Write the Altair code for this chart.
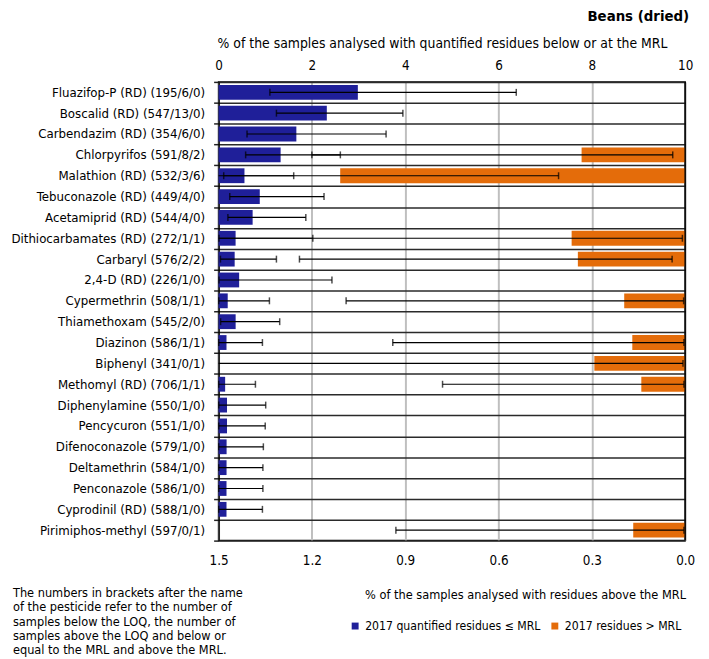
import altair as alt
import pandas as pd

categories = [
    "Fluazifop-P (RD) (195/6/0)", "Boscalid (RD) (547/13/0)", "Carbendazim (RD) (354/6/0)",
    "Chlorpyrifos (591/8/2)", "Malathion (RD) (532/3/6)", "Tebuconazole (RD) (449/4/0)",
    "Acetamiprid (RD) (544/4/0)", "Dithiocarbamates (RD) (272/1/1)", "Carbaryl (576/2/2)",
    "2,4-D (RD) (226/1/0)", "Cypermethrin (508/1/1)", "Thiamethoxam (545/2/0)",
    "Diazinon (586/1/1)", "Biphenyl (341/0/1)", "Methomyl (RD) (706/1/1)",
    "Diphenylamine (550/1/0)", "Pencycuron (551/1/0)", "Difenoconazole (579/1/0)",
    "Deltamethrin (584/1/0)", "Penconazole (586/1/0)", "Cyprodinil (RD) (588/1/0)",
    "Pirimiphos-methyl (597/0/1)",
]
# % quantified residues <= MRL (top axis) with error-bar limits
below_pct = [2.985, 2.32, 1.667, 1.33, 0.555, 0.883, 0.73, 0.365, 0.345, 0.441, 0.196, 0.366,
             0.17, 0.0, 0.141, 0.181, 0.181, 0.172, 0.171, 0.17, 0.17, 0.0]
below_lo = [1.10, 1.24, 0.61, 0.58, 0.11, 0.24, 0.20, 0.01, 0.04, 0.01, 0.005, 0.044,
            0.004, None, 0.004, 0.005, 0.005, 0.004, 0.004, 0.004, 0.004, None]
below_hi = [6.38, 3.95, 3.59, 2.61, 1.61, 2.26, 1.87, 2.02, 1.24, 2.43, 1.09, 1.31,
            0.94, None, 0.79, 1.01, 1.00, 0.96, 0.95, 0.95, 0.94, None]
# % residues > MRL (bottom axis, reversed) with error-bar limits
above_pct = [0, 0, 0, 0.333, 1.109, 0, 0, 0.365, 0.345, 0, 0.196, 0,
             0.17, 0.292, 0.141, 0, 0, 0, 0, 0, 0, 0.167]
above_lo = [None, None, None, 0.040, 0.407, None, None, 0.009, 0.042, None, 0.005, None,
            0.004, 0.007, 0.004, None, None, None, None, None, None, 0.004]
above_hi = [None, None, None, 1.20, 2.40, None, None, 2.02, 1.24, None, 1.09, None,
            0.94, 1.62, 0.78, None, None, None, None, None, None, 0.93]

top_ticks = [0, 2, 4, 6, 8, 10]
bottom_ticks = [1.5, 1.2, 0.9, 0.6, 0.3, 0.0]
series_names = ["2017 quantified residues \u2264 MRL", "2017 residues > MRL"]
note = ("The numbers in brackets after the name\nof the pesticide refer to the number of\n"
        "samples below the LOQ, the number of\nsamples above the LOQ and below or\n"
        "equal to the MRL and above the MRL.")
panel_title = "Beans (dried)"

BLUE = "#1F1F99"
ORANGE = "#E46C0A"
FONT = "DejaVu Sans Condensed, DejaVu Sans"
W, H = 472, 464

df = pd.DataFrame({
    "cat": categories, "below": below_pct, "blo": below_lo, "bhi": below_hi,
    "above": above_pct, "alo": above_lo, "ahi": above_hi,
})

y_axis = alt.Axis(title=None, labelFont=FONT, labelFontSize=13.3, labelColor="black",
                  labelPadding=9, labelLimit=300, tickSize=5, tickColor="#222", tickWidth=1.5,
                  tickBand="extent", grid=True, gridColor="#2a2a2a", gridWidth=1.5,
                  domainColor="black", domainWidth=1.5)
y_enc = alt.Y("cat:N", sort=categories, scale=alt.Scale(paddingInner=0, paddingOuter=0), axis=y_axis)

top_scale = alt.Scale(domain=[0, 10], nice=False, zero=True)
top_axis = alt.Axis(orient="top", values=top_ticks, format="d", labelFlush=False,
                    labelFont=FONT, labelFontSize=13.5, labelColor="black", labelPadding=10,
                    ticks=False, tickSize=0, domain=False, grid=True, gridColor="#BFBFBF",
                    gridWidth=2,
                    title="% of the samples analysed with quantified residues below or at the MRL",
                    titleFont=FONT, titleFontSize=14, titleFontWeight="normal", titleColor="black",
                    titleX=226, titleY=-39, titleBaseline="middle")
bot_scale = alt.Scale(domain=[0, 1.5], reverse=True, nice=False, zero=True, clamp=True)
bot_axis = alt.Axis(orient="bottom", values=bottom_ticks, format=".1f", labelFlush=False,
                    labelFont=FONT, labelFontSize=13.5, labelColor="black", labelPadding=13,
                    ticks=False, tickSize=0, domain=False, grid=False,
                    title="% of the samples analysed with residues above the MRL",
                    titleFont=FONT, titleFontSize=12.8, titleFontWeight="normal", titleColor="black",
                    titleX=310, titleY=55, titleBaseline="middle")

color_scale = alt.Scale(domain=series_names, range=[BLUE, ORANGE])
legend = alt.Legend(title=None, orient="none", legendX=132, legendY=544, direction="horizontal",
                    symbolType="square", symbolSize=49, symbolStrokeWidth=0, labelFont=FONT,
                    labelFontSize=12.3, labelColor="black", labelOffset=4, columnPadding=8,
                    labelLimit=400, padding=0)

base = alt.Chart(df)

blue_bar = base.transform_filter("datum.below > 0").transform_calculate(
    series=f"'{series_names[0]}'"
).mark_bar(size=15).encode(
    x=alt.X("below:Q", scale=top_scale, axis=top_axis), y=y_enc,
    color=alt.Color("series:N", scale=color_scale, legend=legend),
)
blue_err = base.transform_filter("isValid(datum.bhi)").mark_rule(color="black", strokeWidth=1.2).encode(
    x=alt.X("blo:Q", scale=top_scale, axis=top_axis), x2="bhi:Q", y=y_enc)
blue_cap_lo = base.transform_filter("isValid(datum.blo)").mark_tick(
    color="black", thickness=1.5, size=7, orient="vertical").encode(
    x=alt.X("blo:Q", scale=top_scale, axis=top_axis), y=y_enc)
blue_cap_hi = base.transform_filter("isValid(datum.bhi)").mark_tick(
    color="black", thickness=1.5, size=7, orient="vertical").encode(
    x=alt.X("bhi:Q", scale=top_scale, axis=top_axis), y=y_enc)
blue_layer = alt.layer(blue_bar, blue_err, blue_cap_lo, blue_cap_hi)

orange_bar = base.transform_filter("datum.above > 0").transform_calculate(
    series=f"'{series_names[1]}'"
).mark_bar(size=15).encode(
    x=alt.X("above:Q", scale=bot_scale, axis=bot_axis), y=y_enc,
    color=alt.Color("series:N", scale=color_scale, legend=legend),
)
orange_err = base.transform_filter("isValid(datum.ahi)").mark_rule(color="black", strokeWidth=1.2).encode(
    x=alt.X("alo:Q", scale=bot_scale, axis=bot_axis), x2="ahi:Q", y=y_enc)
orange_cap_lo = base.transform_filter("isValid(datum.alo)").mark_tick(
    color="black", thickness=1.5, size=7, orient="vertical").encode(
    x=alt.X("alo:Q", scale=bot_scale, axis=bot_axis), y=y_enc)
orange_cap_hi = base.transform_filter("isValid(datum.ahi) && datum.ahi <= 1.5").mark_tick(
    color="black", thickness=1.5, size=7, orient="vertical").encode(
    x=alt.X("ahi:Q", scale=bot_scale, axis=bot_axis), y=y_enc)
orange_layer = alt.layer(orange_bar, orange_err, orange_cap_lo, orange_cap_hi)

frame = alt.Chart(pd.DataFrame({"e": [0]})).mark_rule(color="black", strokeWidth=1.5).encode(
    x=alt.value(W), y=alt.value(0), y2=alt.value(H))

note_text = alt.Chart(pd.DataFrame({"t": [note]})).mark_text(
    align="left", baseline="top", lineBreak="\n", lineHeight=14.5, font=FONT, fontSize=12.8,
    color="black").encode(x=alt.value(-208), y=alt.value(511), text="t:N")

title_text = alt.Chart(pd.DataFrame({"t": [panel_title]})).mark_text(
    align="right", baseline="middle", font=FONT, fontSize=15, fontWeight="bold",
    color="black").encode(x=alt.value(W + 4), y=alt.value(-67), text="t:N")

chart = alt.layer(blue_layer, orange_layer, frame, note_text, title_text).resolve_scale(
    x="independent"
).properties(
    width=W, height=H,
    autosize=alt.AutoSizeParams(type="none"),
    padding={"left": 213, "top": 71, "right": 16, "bottom": 116},
).configure_view(stroke="black", strokeWidth=1.5)

chart.save("out.html", embed_options={"renderer": "svg", "actions": False})
